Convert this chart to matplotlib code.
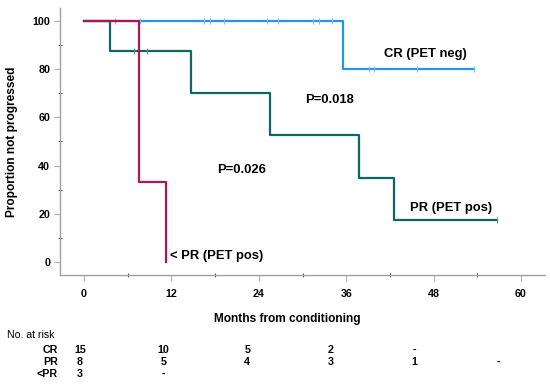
import matplotlib
matplotlib.use("Agg")
import matplotlib.pyplot as plt
import numpy as np

plt.rcParams['font.family'] = ['Liberation Sans', 'DejaVu Sans']

# ---- data (months, % not progressed) ----
cr_times = [0, 35.6, 53.6]
cr_surv = [100, 80, 80]
cr_censor_t = [4.2, 7.7, 16.5, 17.3, 19.2, 25.1, 26.6, 31.5, 32.3, 34.0, 39.2, 39.8, 45.7, 53.6]
cr_censor_s = [100, 100, 100, 100, 100, 100, 100, 100, 100, 100, 80, 80, 80, 80]

pr_times = [0, 3.6, 14.7, 25.5, 37.7, 42.6, 56.7]
pr_surv = [100, 87.5, 70, 52.5, 35, 17.5, 17.5]
pr_censor_t = [6.9, 8.7, 56.7]
pr_censor_s = [87.5, 87.5, 17.5]

lpr_times = [0, 7.5, 11.2]
lpr_surv = [100, 33.3, 0]

risk_times = [0, 12, 24, 36, 48, 60]
risk_groups = ['CR', 'PR', '<PR']
risk_cr = ['15', '10', '5', '2', '-', '']
risk_pr = ['8', '5', '4', '3', '1', '-']
risk_lpr = ['3', '-', '', '', '', '']

x_ticks = [0, 12, 24, 36, 48, 60]
y_ticks = [0, 20, 40, 60, 80, 100]

c_cr = '#2196F0'
c_pr = '#0F6662'
c_lpr = '#AE1656'

W, H = 550, 388
fig = plt.figure(figsize=(5.5, 3.88), dpi=100)

def fx(px):
    return px / W

def fy(py):
    return 1 - py / H

ax = fig.add_axes([fx(60), fy(275), fx(545) - fx(60), fy(8) - fy(275)])
ax.set_xlim(-3.3, 63.3)
ax.set_ylim(-5.39, 105.3)

lw = 1.6
ax.step(pr_times, pr_surv, where='post', color=c_pr, lw=lw, zorder=3)
ax.step(cr_times, cr_surv, where='post', color=c_cr, lw=lw, zorder=3)
ax.step(lpr_times, lpr_surv, where='post', color=c_lpr, lw=lw, zorder=4)
ax.plot(cr_censor_t, cr_censor_s, ls='none', marker='|', ms=4, mew=0.8, color='#7DBDF2', zorder=3)
ax.plot(pr_censor_t, pr_censor_s, ls='none', marker='|', ms=4, mew=0.8, color='#5E948F', zorder=3)

for s in ['top', 'right']:
    ax.spines[s].set_visible(False)
for s in ['left', 'bottom']:
    ax.spines[s].set_color('#A0A0A0')
    ax.spines[s].set_linewidth(1.0)

ax.set_xticks(x_ticks)
ax.set_xticks([6, 18, 30, 42, 54], minor=True)
ax.set_yticks(y_ticks)
ax.set_yticks([10, 30, 50, 70, 90], minor=True)
ax.tick_params(axis='both', which='major', length=4, width=0.8, color='#B0B0B0',
               labelsize=7.7, direction='out')
ax.tick_params(axis='x', which='major', pad=6)
ax.tick_params(axis='y', which='major', pad=3)
ax.tick_params(axis='both', which='minor', length=3, width=0.8, color='#606060', direction='inout')
for lab in ax.get_xticklabels() + ax.get_yticklabels():
    lab.set_fontweight('bold')

ax.set_ylabel('Proportion not progressed', fontsize=8.6, fontweight='bold')
ax.yaxis.set_label_coords((18 - 60) / 485, 0.5)
ax.set_xlabel('Months from conditioning', fontsize=8.6, fontweight='bold')
ax.xaxis.set_label_coords((287.5 - 60) / 485, (275 - 313) / 267)

tkw = dict(fontsize=9.4, fontweight='bold', va='center')
ax.text(41.2, 86.2, 'CR (PET neg)', ha='left', **tkw)
ax.text(30.4, 67.2, 'P=0.018', ha='left', **tkw)
ax.text(18.3, 38.2, 'P=0.026', ha='left', **tkw)
ax.text(44.8, 22.2, 'PR (PET pos)', ha='left', **tkw)
ax.text(11.8, 2.3, '< PR (PET pos)', ha='left', **tkw)

# ---- risk table ----
rax = fig.add_axes([fx(60), fy(388), fx(545) - fx(60), fy(320) - fy(388)])
rax.set_xlim((60 - 80) / 6.97, (545 - 80) / 6.97)
rax.set_ylim(388, 320)
rax.axis('off')

row_y = [350, 362, 374]
for vals, yy in zip([risk_cr, risk_pr, risk_lpr], row_y):
    for t, v in zip(risk_times, vals):
        if v:
            rax.text(t, yy, v, ha='center', va='center', fontsize=7.7, fontweight='bold')

fig.text(fx(7), fy(335), 'No. at risk', ha='left', va='center', fontsize=7.6)
for g, yy in zip(risk_groups, row_y):
    fig.text(fx(58), fy(yy), g, ha='right', va='center', fontsize=7.7, fontweight='bold')

fig.savefig('out.png', dpi=100)
